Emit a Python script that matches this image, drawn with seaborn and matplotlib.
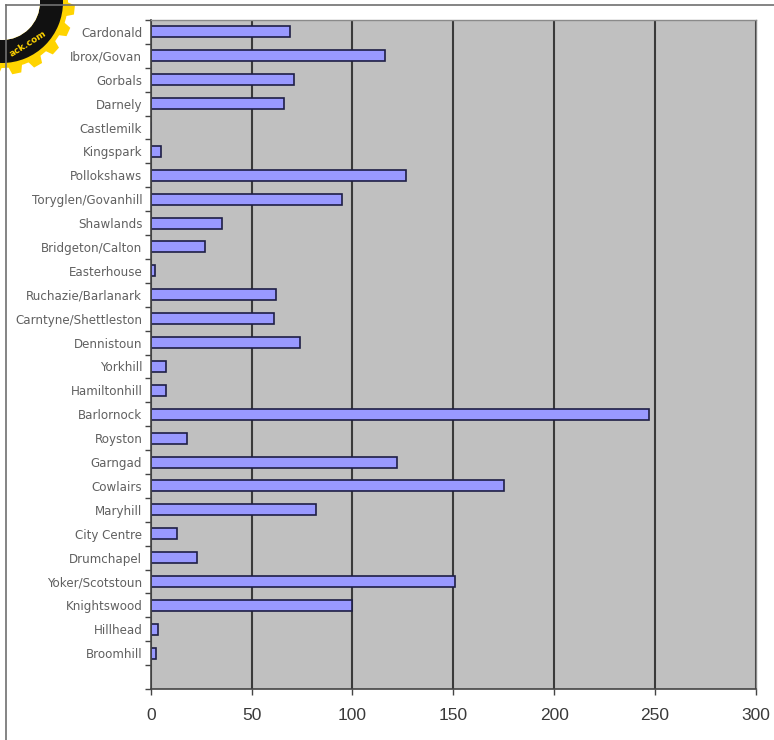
import numpy as np
import pandas as pd
import matplotlib
matplotlib.use("Agg")
import matplotlib.pyplot as plt
import seaborn as sns
from matplotlib.patches import Polygon, Wedge, Circle

# ---- data ----
areas = ["Cardonald", "Ibrox/Govan", "Gorbals", "Darnely", "Castlemilk", "Kingspark",
         "Pollokshaws", "Toryglen/Govanhill", "Shawlands", "Bridgeton/Calton",
         "Easterhouse", "Ruchazie/Barlanark", "Carntyne/Shettleston", "Dennistoun",
         "Yorkhill", "Hamiltonhill", "Barlornock", "Royston", "Garngad", "Cowlairs",
         "Maryhill", "City Centre", "Drumchapel", "Yoker/Scotstoun", "Knightswood",
         "Hillhead", "Broomhill"]
counts = [69, 116, 71, 66, 0, 5, 126.5, 95, 35.5, 27, 2.3, 62, 61, 74,
          7.5, 7.5, 247, 18, 122, 175, 82, 13, 23, 151, 100, 3.6, 2.5]
x_ticks = [0, 50, 100, 150, 200, 250, 300]

df = pd.DataFrame({"area": areas, "count": counts})

W, H = 774, 740
fig = plt.figure(figsize=(W / 100, H / 100), dpi=100)
fig.patch.set_facecolor("white")

left, right, top, bottom = 150.7, 756, 20, 689
ax = fig.add_axes([left / W, 1 - bottom / H, (right - left) / W, (bottom - top) / H])
ax.set_facecolor("#c0c0c0")

sns.barplot(data=df, x="count", y="area", orient="h", color="#9999ff",
            saturation=1, edgecolor="#1e1e46", linewidth=1.2, width=0.46, ax=ax)

n_slots = len(areas) + 1
ax.set_ylim(n_slots - 0.5, -0.5)
ax.set_xlim(0, 300)
ax.set_xticks(x_ticks)
ax.set_xticklabels([str(v) for v in x_ticks], fontsize=12.5,
                   family="Liberation Sans", color="#3a3a3a")
ax.set_xlabel("")
ax.set_ylabel("")

# vertical gridlines
ax.grid(axis="x", color="#3a3a3a", linewidth=1.5)
ax.grid(axis="y", visible=False)
ax.set_axisbelow(True)

# y tick labels and boundary ticks
ax.set_yticks(range(len(areas)))
ax.set_yticklabels(areas, fontsize=8.6, color="#606060", family="DejaVu Sans")
ax.tick_params(axis="y", which="major", length=0, pad=6)
ax.set_yticks(np.arange(-0.5, n_slots, 1.0), minor=True)
ax.tick_params(axis="y", which="minor", length=4, width=1, color="#444444", direction="out")
ax.tick_params(axis="x", which="major", length=4, width=1, color="#444444", pad=10)

for s in ["left", "bottom"]:
    ax.spines[s].set_color("#444444")
    ax.spines[s].set_linewidth(1.2)
for s in ["top", "right"]:
    ax.spines[s].set_color("#8a8a8a")
    ax.spines[s].set_linewidth(1.0)

# ---- overlay: outer frame and corner logo ----
ov = fig.add_axes([0, 0, 1, 1], zorder=10)
ov.set_xlim(0, W)
ov.set_ylim(H, 0)
ov.set_axis_off()
ov.plot([6, W], [5, 5], color="#707070", lw=1.2)
ov.plot([6, 6], [5, H], color="#707070", lw=1.2)

cx, cy = 2, 2
nteeth = 20
step = 2 * np.pi / nteeth
pts = []
for k in range(nteeth):
    a0 = step * k
    for frac, r in [(0.0, 65), (0.15, 73), (0.55, 73), (0.7, 65)]:
        a = a0 + frac * step
        pts.append((cx + r * np.cos(a), cy + r * np.sin(a)))
ov.add_patch(Polygon(pts, closed=True, facecolor="#ffd400", edgecolor="none"))
ov.add_patch(Circle((cx, cy), 66, facecolor="#ffd400", edgecolor="none"))
ov.add_patch(Wedge((cx, cy), 61, 0, 360, width=23, facecolor="#111111", edgecolor="none"))
ov.add_patch(Circle((cx, cy), 38, facecolor="white", edgecolor="none"))
ov.text(28, 44, "ack.com", rotation=32, fontsize=6.5, color="#ffd400",
        ha="center", va="center", fontweight="bold")

fig.savefig("out.png", dpi=100)
